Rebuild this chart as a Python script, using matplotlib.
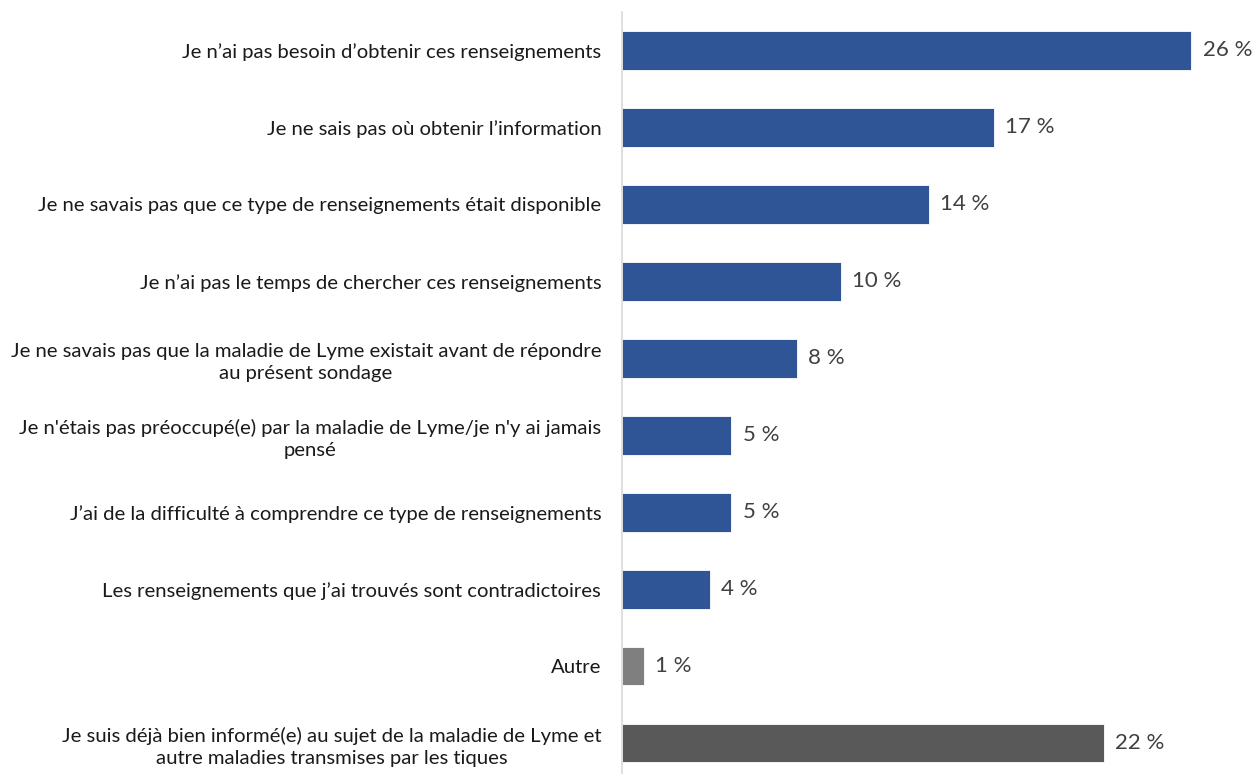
import matplotlib
matplotlib.use("Agg")
import matplotlib.pyplot as plt

plt.rcParams['font.family'] = ['Lato', 'DejaVu Sans']

labels = [
    "Je n\u2019ai pas besoin d\u2019obtenir ces renseignements",
    "Je ne sais pas o\u00f9 obtenir l\u2019information",
    "Je ne savais pas que ce type de renseignements \u00e9tait disponible",
    "Je n\u2019ai pas le temps de chercher ces renseignements",
    "Je ne savais pas que la maladie de Lyme existait avant de r\u00e9pondre\nau pr\u00e9sent sondage",
    "Je n'\u00e9tais pas pr\u00e9occup\u00e9(e) par la maladie de Lyme/je n'y ai jamais\npens\u00e9",
    "J\u2019ai de la difficult\u00e9 \u00e0 comprendre ce type de renseignements",
    "Les renseignements que j\u2019ai trouv\u00e9s sont contradictoires",
    "Autre",
    "Je suis d\u00e9j\u00e0 bien inform\u00e9(e) au sujet de la maladie de Lyme et\nautre maladies transmises par les tiques",
]
values = [26, 17, 14, 10, 8, 5, 5, 4, 1, 22]
colors = ['#2F5597'] * 8 + ['#7F7F7F', '#595959']

fig = plt.figure(figsize=(12.56, 7.74), dpi=100)
ax = fig.add_axes([0.4952, 0.0, 0.5048, 0.9845])

pos = list(range(len(values)))
bars = ax.barh(pos, values, height=0.5, color=colors, edgecolor='white', linewidth=0.6)

for b, v in zip(bars, values):
    ax.annotate(f"{v} %", (b.get_width(), b.get_y() + b.get_height() / 2),
                xytext=(8, 0), textcoords='offset points', va='center', ha='left',
                fontsize=16, color='#404040')

ax.set_yticks(pos)
ax.set_yticklabels(labels, fontsize=14.6, color='#1a1a1a', multialignment='center',
                   linespacing=1.35)
ax.tick_params(axis='y', length=0, pad=15)
ax.set_xticks([])
ax.set_xlim(0, 28.95)
ax.set_ylim(9.40, -0.5)

for s in ['top', 'right', 'bottom']:
    ax.spines[s].set_visible(False)
ax.spines['left'].set_color('#D9D9D9')
ax.spines['left'].set_linewidth(1.2)

fig.savefig('out.png', dpi=100)
